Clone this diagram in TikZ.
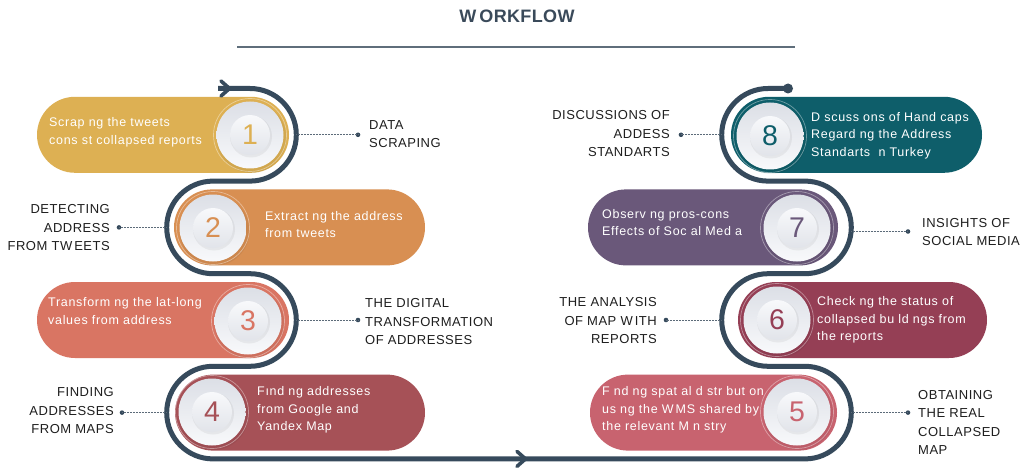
\documentclass[tikz,border=0pt]{standalone}
\usepackage{fontspec}
\setmainfont{Liberation Sans}
\newfontfamily\pillfam[LetterSpace=5.5]{Liberation Sans}
\newfontfamily\labfam[LetterSpace=4]{Liberation Sans}
\newfontfamily\headfam[LetterSpace=2]{Liberation Sans}
\newcommand\pillfont{\pillfam\fontsize{12.5}{17.6}\selectfont}
\newcommand\labfont{\labfam\fontsize{13}{18.5}\selectfont}
\newcommand\digitfont{\fontsize{28.5}{30}\selectfont}
\newcommand\headfont{\headfam\bfseries\fontsize{18}{20}\selectfont}

\definecolor{cA}{HTML}{DDB053}
\definecolor{cB}{HTML}{D88F52}
\definecolor{cC}{HTML}{D97563}
\definecolor{cD}{HTML}{A65157}
\definecolor{cE}{HTML}{C8636F}
\definecolor{cF}{HTML}{953F55}
\definecolor{cG}{HTML}{6A587A}
\definecolor{cH}{HTML}{0E5E6A}
\definecolor{pathc}{HTML}{364A5C}
\definecolor{leadc}{HTML}{5C6B79}
\definecolor{labc}{HTML}{1E1E1E}
\definecolor{headc}{HTML}{3A4A5A}
\definecolor{rulec}{HTML}{5F6E7B}
\definecolor{diskdark}{HTML}{DCDFE6}
\definecolor{disklight}{HTML}{F8F9FB}

% pill body: x-left, x-right, y-centre, colour
\newcommand\pillbody[4]{%
  \fill[#4, rounded corners=38] (#1,#3-38) rectangle (#2,#3+38);}
% number disk: name, x, y, colour, digit
\newcommand\numdisk[5]{%
  \fill[black, opacity=0.05] (#2+1.5,#3+3) circle[radius=35];
  \draw[white, opacity=0.4, line width=0.7] (#2,#3) circle[radius=36.5];
  \shade[top color=diskdark, bottom color=disklight] (#2,#3) circle[radius=33.5];
  \fill[black, opacity=0.05] (#2+1,#3+1.5) circle[radius=21];
  \shade[top color=disklight, bottom color=diskdark!85!white] (#2,#3) circle[radius=20];
  \node[digit, text=#4] (#1) at (#2,#3) {#5};}

\begin{document}
\begin{tikzpicture}[x=1pt, y=1pt, yscale=-1,
  pathline/.style={draw=pathc, line width=5pt},
  chevron/.style={draw=pathc, line width=3.6pt, line cap=round, line join=round},
  pilltext/.style={font=\pillfont, text=white, anchor=west, align=left, inner sep=0pt},
  labl/.style={font=\labfont, text=labc, anchor=west, align=left, inner sep=0pt},
  labr/.style={font=\labfont, text=labc, anchor=east, align=right, inner sep=0pt},
  digit/.style={font=\digitfont, inner sep=0pt},
  leader/.style={draw=leadc, line width=0.9pt, dash pattern=on 0.9pt off 0.6pt},
  tipdot/.style={circle, fill=pathc, inner sep=0pt, minimum size=4.6pt},
  enddot/.style={circle, fill=pathc, inner sep=0pt, minimum size=10pt}]

\fill[white] (0,0) rectangle (1023,468);
\useasboundingbox (0,0) rectangle (1023,468);

% heading and rule
\node[font=\headfont, text=headc, inner sep=0pt] (title) at (517,16) {W\kern3pt ORKFLOW};
\draw[rulec, line width=1.5pt] (237,47) -- (795,47);

% pill bodies
\pillbody{37}{289}{134.8}{cA}
\pillbody{174}{425}{227.4}{cB}
\pillbody{37}{289}{320}{cC}
\pillbody{175}{425}{412.6}{cD}
\pillbody{590}{837}{412.6}{cE}
\pillbody{738}{987}{320}{cF}
\pillbody{588}{838}{227.4}{cG}
\pillbody{731}{982}{134.8}{cH}

% step descriptions
\node[pilltext] (t1) at (49,132) {Scrap ng the tweets\\cons st collapsed reports};
\node[pilltext] (t2) at (265,224.5) {Extract ng the address\\from tweets};
\node[pilltext] (t3) at (48,311) {Transform ng the lat-long\\values from address};
\node[pilltext] (t4) at (257,410) {Fınd ng addresses\\from Google and\\Yandex Map};
\node[pilltext] (t5) at (602,410) {F nd ng spat al d str but on\\us ng the W\kern2pt MS shared by\\the relevant M n stry};
\node[pilltext] (t6) at (817,320) {Check ng the status of\\collapsed bu ld ngs from\\the reports};
\node[pilltext] (t7) at (602,222.5) {Observ ng pros-cons\\Effects of Soc al Med a};
\node[pilltext] (t8) at (811,135.7) {D scuss ons of Hand caps\\Regard ng the Address\\Standarts\ \ n Turkey};

% number disks
\numdisk{n1}{250}{135}{cA}{1}
\numdisk{n2}{213}{228}{cB}{2}
\numdisk{n3}{248}{321}{cC}{3}
\numdisk{n4}{212}{412}{cD}{4}
\numdisk{n5}{797}{412}{cE}{5}
\numdisk{n6}{777}{320}{cF}{6}
\numdisk{n7}{797}{228}{cG}{7}
\numdisk{n8}{770}{136}{cH}{8}

% serpentine flow line
\draw[pathline] (218,88.5) -- (250,88.5)
  arc[start angle=-90, end angle=90, radius=46.3] -- (213,181.1)
  arc[start angle=-90, end angle=-270, radius=46.3] -- (250,273.7)
  arc[start angle=-90, end angle=90, radius=46.3] -- (213,366.3)
  arc[start angle=-90, end angle=-270, radius=46.3] -- (805,458.9)
  arc[start angle=90, end angle=-90, radius=46.3] -- (768,366.3)
  arc[start angle=90, end angle=270, radius=46.3] -- (805,273.7)
  arc[start angle=90, end angle=-90, radius=46.3] -- (768,181.1)
  arc[start angle=90, end angle=270, radius=46.3] -- (786,88.5);
\draw[chevron] (221,81) -- (229.5,88.5) -- (221,96);
\draw[chevron] (517,451.4) -- (525.5,458.9) -- (517,466.4);
\node[enddot] (flowend) at (788,88.5) {};

% attachment points on the flow line
\coordinate (p1) at (296.3,134.8);
\coordinate (p2) at (166.7,227.4);
\coordinate (p3) at (296.3,320);
\coordinate (p4) at (166.7,412.6);
\coordinate (p5) at (851.3,412.6);
\coordinate (p6) at (721.7,320);
\coordinate (p7) at (851.1,231.5);
\coordinate (p8) at (721.7,134.8);

% leader dots
\node[tipdot] (d1) at (358,134.8) {};
\node[tipdot] (d2) at (119,227.4) {};
\node[tipdot] (d3) at (358,320) {};
\node[tipdot] (d4) at (122,412.6) {};
\node[tipdot] (d5) at (908,412.6) {};
\node[tipdot] (d6) at (666,320) {};
\node[tipdot] (d7) at (908,231.5) {};
\node[tipdot] (d8) at (681,134.8) {};

\foreach \k in {1,...,8} { \draw[leader] (p\k) -- (d\k.center); }

% stage labels
\node[labl] (l1) at (369,134) {DATA\\SCRAPING};
\node[labr] (l2) at (110,228) {DETECTING\\ADDRESS\\FROM TW\kern2pt EETS};
\node[labl] (l3) at (365,322) {THE DIGITAL\\TRANSFORMATION\\OF ADDRESSES};
\node[labr] (l4) at (114,411) {FINDING\\ADDRESSES\\FROM MAPS};
\node[labl] (l5) at (918,422.5) {OBTAINING\\THE REAL\\COLLAPSED\\MAP};
\node[labr] (l6) at (657,321) {THE ANALYSIS\\OF MAP W\kern2pt ITH\\REPORTS};
\node[labl] (l7) at (922,232) {INSIGHTS OF\\SOCIAL MEDIA};
\node[labr] (l8) at (670,134) {DISCUSSIONS OF\\ADDESS\\STANDARTS};
\end{tikzpicture}
\end{document}
